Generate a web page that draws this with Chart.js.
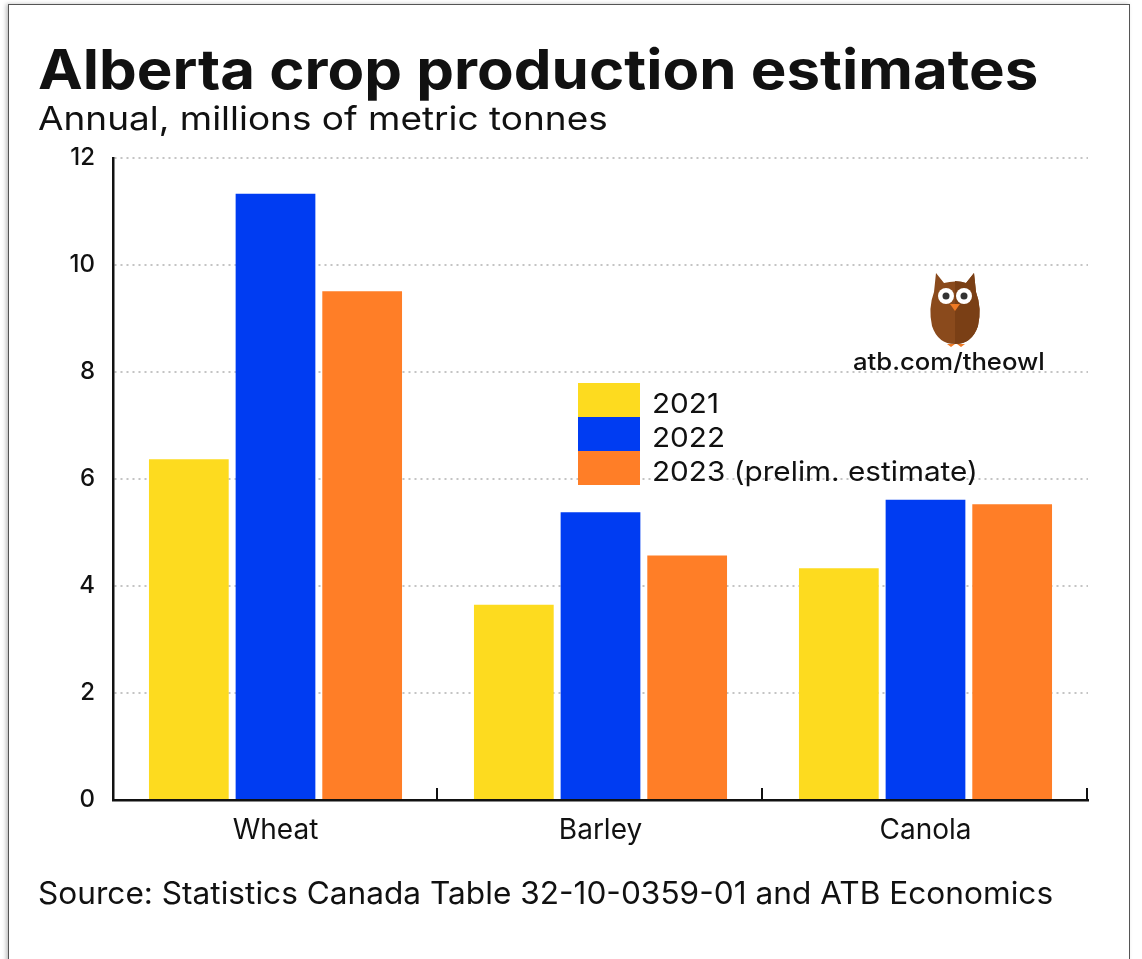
<!DOCTYPE html>
<html lang="en">
<head>
<meta charset="UTF-8">
<title>Alberta crop production estimates</title>
<script src="https://cdn.jsdelivr.net/npm/chart.js"></script>
<style>
    body {
        margin: 0;
        background: #fff;
        font-family: Inter, "Noto Sans", sans-serif;
        color: #111;
    }
    .page {
        position: relative;
        width: 1142px;
        height: 959px;
        overflow: hidden;
    }
    .frame {
        position: absolute;
        left: 8px;
        top: 4px;
        width: 1120px;
        height: 1000px;
        border: 1.5px solid #555;
        box-shadow: -2px 0 4px rgba(0,0,0,0.25);
    }
    canvas {
        position: absolute;
        left: 0;
        top: 0;
    }
    .txt {
        position: absolute;
        margin: 0;
        line-height: 1;
        white-space: nowrap;
        transform-origin: left top;
    }
    .title {
        left: 38px;
        top: 42px;
        font-size: 55px;
        font-weight: 700;
        transform: scaleX(1.09);
    }
    .subtitle {
        left: 38px;
        top: 102px;
        font-size: 33px;
        transform: scaleX(1.12);
    }
    .source {
        left: 38px;
        top: 877px;
        font-size: 31px;
        transform: scaleX(1.02);
    }
    .legend {
        position: absolute;
        left: 578px;
        top: 383px;
    }
    .legend div {
        display: flex;
        align-items: center;
        height: 34px;
        font-size: 27.5px;
    }
    .legend span.box {
        display: inline-block;
        width: 62px;
        height: 34px;
        margin-right: 12px;
    }
    .legend span.lbl {
        display: inline-block;
        position: relative;
        top: 3px;
        transform: scaleX(1.08);
        transform-origin: left center;
        white-space: nowrap;
    }
    .owl {
        position: absolute;
        left: 927px;
        top: 270px;
    }
    .owl-link {
        left: 853px;
        top: 350px;
        font-size: 24px;
        font-weight: 500;
        transform: scaleX(1.07);
    }
</style>
</head>
<body>
<div class="page">
    <div class="frame"></div>
    <canvas id="grafico" width="1142" height="959"></canvas>
    <h1 class="txt title">Alberta crop production estimates</h1>
    <p class="txt subtitle">Annual, millions of metric tonnes</p>
    <div class="legend" id="legenda"></div>
    <svg class="owl" width="56" height="78" viewBox="0 0 56 78">
        <path d="M9 3 L17 13 Q28 10 39 13 L47 3 L49 22 Q55 38 51 56 Q45 74 28 74 Q11 74 5 56 Q1 38 7 22 Z" fill="#8a4a1c"/>
        <path d="M28 11 Q34 11 39 13 L47 3 L49 22 Q55 38 51 56 Q45 74 28 74 Z" fill="#7a3f15"/>
        <circle cx="19" cy="26" r="8" fill="#fff"/>
        <circle cx="37" cy="26" r="8" fill="#fff"/>
        <circle cx="19" cy="26" r="3.5" fill="#333"/>
        <circle cx="37" cy="26" r="3.5" fill="#333"/>
        <path d="M23 34 L33 34 L28 41 Z" fill="#f07a24"/>
        <path d="M20 74 L24 77 L28 74 Z M30 74 L34 77 L38 74 Z" fill="#f07a24"/>
    </svg>
    <div class="txt owl-link">atb.com/theowl</div>
    <p class="txt source">Source: Statistics Canada Table 32-10-0359-01 and ATB Economics</p>
</div>

<script>
    // dados (milhões de toneladas)
    const categorias = ["Wheat", "Barley", "Canola"];
    const anos = ["2021", "2022", "2023 (prelim. estimate)"];
    const valores2021 = [6.37, 3.65, 4.33];
    const valores2022 = [11.33, 5.38, 5.61];
    const valores2023 = [9.51, 4.57, 5.53];
    const yTicks = [0, 2, 4, 6, 8, 10, 12];

    const cores = ["#fddb1f", "#003cf2", "#ff7e27"];
    const series = [valores2021, valores2022, valores2023];

    // legenda em html
    const legenda = document.getElementById('legenda');
    anos.forEach((ano, i) => {
        const linha = document.createElement('div');
        linha.innerHTML = '<span class="box" style="background:' + cores[i] + '"></span><span class="lbl">' + ano + '</span>';
        legenda.appendChild(linha);
    });

    // marquinhas do eixo x entre as categorias
    const marcasX = {
        id: 'marcasX',
        afterDraw(chart) {
            const xs = chart.scales.x;
            const ctx = chart.ctx;
            const w = (xs.right - xs.left) / categorias.length;
            ctx.save();
            ctx.strokeStyle = '#111';
            ctx.lineWidth = 2;
            for (let i = 1; i <= categorias.length; i++) {
                const x = Math.round(xs.left + i * w) - 1;
                ctx.beginPath();
                ctx.moveTo(x, xs.top);
                ctx.lineTo(x, xs.top - 12);
                ctx.stroke();
            }
            ctx.restore();
        }
    };

    const ctx = document.getElementById('grafico');

    new Chart(ctx, {
        type: 'bar',
        data: {
            labels: categorias,
            datasets: anos.map((ano, i) => ({
                label: ano,
                data: series[i],
                backgroundColor: cores[i],
                borderWidth: 0,
                categoryPercentage: 0.8,
                barPercentage: 0.92
            }))
        },
        options: {
            responsive: false,
            animation: false,
            layout: {
                padding: { left: 53, right: 54, top: 158, bottom: 99 }
            },
            plugins: {
                legend: { display: false },
                tooltip: { enabled: false }
            },
            scales: {
                x: {
                    afterFit: (s) => { s.height = 60; },
                    grid: { display: true, drawOnChartArea: false, drawTicks: false },
                    border: { display: true, color: '#111', width: 2.5 },
                    ticks: {
                        padding: 14,
                        color: '#111',
                        font: { family: 'Inter', size: 28 }
                    }
                },
                y: {
                    min: 0,
                    max: 12,
                    afterFit: (s) => { s.width = 60; },
                    afterBuildTicks: (s) => { s.ticks = yTicks.map(v => ({ value: v })); },
                    grid: { color: '#c4c4c4', lineWidth: 2, drawTicks: false },
                    border: { display: true, color: '#111', width: 2.5, dash: [2, 4] },
                    ticks: {
                        padding: 18,
                        color: '#111',
                        font: { family: 'Inter', size: 24, weight: '500' }
                    }
                }
            }
        },
        plugins: [marcasX]
    });
</script>
</body>
</html>
